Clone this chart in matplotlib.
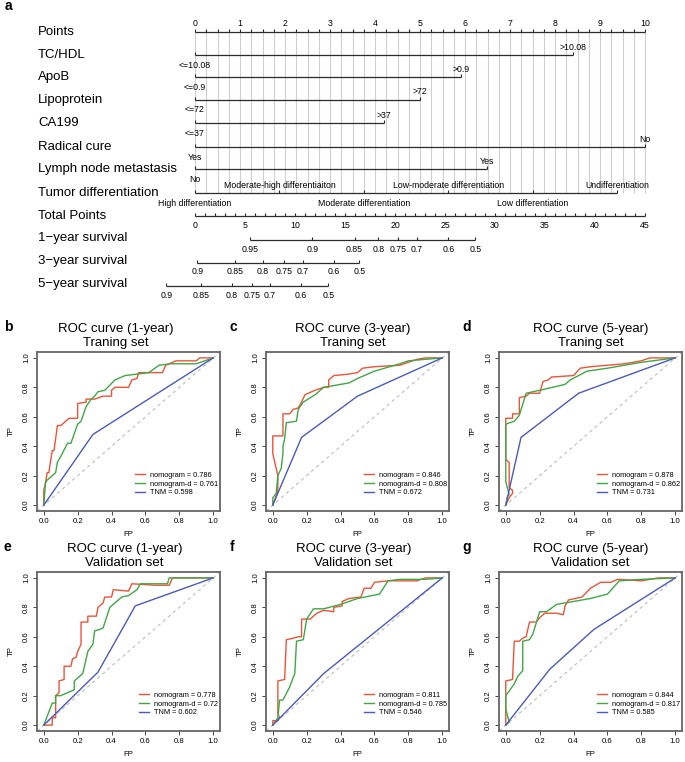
import numpy as np
import matplotlib
matplotlib.use("Agg")
import matplotlib.pyplot as plt

plt.rcParams['font.family'] = ['Liberation Sans', 'DejaVu Sans']

# ---- nomogram (panel a) ----
point_ticks = list(range(0, 11))
variables = ['TC/HDL', 'ApoB', 'Lipoprotein', 'CA199', 'Radical cure', 'Lymph node metastasis']
var_max_points = [8.4, 5.92, 5.0, 4.19, 10.0, 6.48]
var_low_labels = ['<=10.08', '<=0.9', '<=72', '<=37', 'Yes', 'No']
var_high_labels = ['>10.08', '>0.9', '>72', '>37', 'No', 'Yes']
tumor_levels = ['High differentiation', 'Moderate-high differentiaiton', 'Moderate differentiation',
                'Low-moderate differentiation', 'Low differentiation', 'Undifferentiation']
tumor_points = [0, 1.875, 3.75, 5.625, 7.5, 9.375]
total_ticks = list(range(0, 50, 5))
surv_names = ['1\u2212year survival', '3\u2212year survival', '5\u2212year survival']
surv1_labels = ['0.95', '0.9', '0.85', '0.8', '0.75', '0.7', '0.6', '0.5']
surv1_total = [5.54, 11.73, 15.96, 18.32, 20.32, 22.2, 25.34, 28.04]
surv3_labels = ['0.9', '0.85', '0.8', '0.75', '0.7', '0.6', '0.5']
surv3_total = [0.22, 3.97, 6.76, 8.9, 10.77, 13.87, 16.44]
surv5_labels = ['0.9', '0.85', '0.8', '0.75', '0.7', '0.6', '0.5']
surv5_total = [-2.88, 0.61, 3.66, 5.67, 7.5, 10.55, 13.34]

# ---- ROC curves (FP, TP) ----
roc_b_nomo = [(0, 0), (0, 0.1), (0.01, 0.15), (0.02, 0.22), (0.03, 0.22), (0.04, 0.3), (0.05, 0.37), (0.06, 0.37),
              (0.07, 0.45), (0.08, 0.54), (0.1, 0.54), (0.12, 0.56), (0.15, 0.59), (0.2, 0.59), (0.2, 0.69),
              (0.25, 0.7), (0.25, 0.72), (0.3, 0.72), (0.35, 0.74), (0.4, 0.74), (0.4, 0.78), (0.42, 0.8),
              (0.5, 0.8), (0.52, 0.85), (0.55, 0.86), (0.56, 0.9), (0.7, 0.9), (0.72, 0.95), (0.78, 0.98),
              (0.9, 0.98), (0.92, 1.0), (1, 1)]
roc_b_nomod = [(0, 0), (0.01, 0.15), (0.02, 0.17), (0.07, 0.22), (0.08, 0.29), (0.1, 0.33), (0.14, 0.42),
               (0.16, 0.42), (0.2, 0.55), (0.22, 0.57), (0.25, 0.67), (0.28, 0.72), (0.3, 0.74), (0.32, 0.77),
               (0.36, 0.78), (0.42, 0.85), (0.48, 0.88), (0.55, 0.89), (0.62, 0.9), (0.68, 0.95), (0.75, 0.96),
               (0.9, 0.96), (1, 1)]
roc_b_tnm = [(0, 0), (0.29, 0.48), (1, 1)]

roc_c_nomo = [(0, 0), (0.01, 0.03), (0.03, 0.1), (0.03, 0.2), (0.01, 0.3), (0, 0.35), (0, 0.47), (0.06, 0.47),
              (0.06, 0.62), (0.1, 0.62), (0.12, 0.65), (0.15, 0.66), (0.17, 0.7), (0.19, 0.75), (0.25, 0.78),
              (0.3, 0.8), (0.33, 0.8), (0.33, 0.85), (0.36, 0.88), (0.45, 0.89), (0.5, 0.9), (0.53, 0.93),
              (0.6, 0.94), (0.75, 0.95), (0.85, 0.99), (0.9, 1.0), (1, 1)]
roc_c_nomod = [(0, 0), (0, 0.05), (0.02, 0.08), (0.03, 0.2), (0.05, 0.25), (0.06, 0.35), (0.06, 0.4),
               (0.07, 0.45), (0.08, 0.56), (0.14, 0.57), (0.15, 0.65), (0.18, 0.7), (0.25, 0.75), (0.3, 0.8),
               (0.45, 0.83), (0.5, 0.86), (0.6, 0.91), (0.75, 0.96), (0.8, 0.98), (1, 1)]
roc_c_tnm = [(0, 0), (0.17, 0.46), (0.5, 0.74), (1, 1)]

roc_d_nomo = [(0, 0), (0.02, 0.05), (0.04, 0.08), (0.04, 0.1), (0.02, 0.12), (0.02, 0.29), (0, 0.31), (0, 0.59),
              (0.04, 0.59), (0.04, 0.62), (0.08, 0.62), (0.08, 0.73), (0.12, 0.74), (0.14, 0.76), (0.2, 0.76),
              (0.22, 0.84), (0.25, 0.85), (0.27, 0.87), (0.4, 0.88), (0.44, 0.93), (0.5, 0.94), (0.6, 0.95),
              (0.7, 0.96), (0.8, 0.98), (0.85, 1.0), (1, 1)]
roc_d_nomod = [(0, 0), (0.01, 0.06), (0.02, 0.07), (0, 0.16), (0, 0.55), (0.05, 0.57), (0.08, 0.61),
               (0.12, 0.76), (0.2, 0.78), (0.35, 0.82), (0.38, 0.85), (0.48, 0.91), (0.6, 0.93), (0.8, 0.97),
               (1, 1)]
roc_d_tnm = [(0, 0), (0.09, 0.46), (0.43, 0.76), (1, 1)]

roc_e_nomo = [(0, 0), (0.05, 0), (0.05, 0.05), (0.07, 0.05), (0.07, 0.2), (0.09, 0.22), (0.09, 0.3),
              (0.12, 0.31), (0.12, 0.4), (0.16, 0.4), (0.17, 0.45), (0.19, 0.46), (0.2, 0.5), (0.22, 0.55),
              (0.22, 0.7), (0.26, 0.7), (0.26, 0.74), (0.31, 0.74), (0.32, 0.8), (0.35, 0.83), (0.36, 0.87),
              (0.4, 0.87), (0.41, 0.92), (0.5, 0.91), (0.52, 0.96), (0.66, 0.95), (0.74, 0.95), (0.76, 1.0),
              (0.8, 1.0), (1, 1)]
roc_e_nomod = [(0, 0), (0.05, 0.15), (0.07, 0.15), (0.07, 0.2), (0.1, 0.2), (0.18, 0.24), (0.18, 0.3),
               (0.23, 0.35), (0.25, 0.45), (0.26, 0.5), (0.29, 0.55), (0.3, 0.64), (0.33, 0.65), (0.35, 0.66),
               (0.39, 0.8), (0.46, 0.87), (0.5, 0.88), (0.55, 0.92), (0.57, 0.96), (0.73, 0.96), (0.74, 1.0),
               (1, 1)]
roc_e_tnm = [(0, 0), (0.32, 0.36), (0.54, 0.81), (1, 1)]

roc_f_nomo = [(0, 0), (0, 0.03), (0.03, 0.03), (0.04, 0.05), (0.03, 0.08), (0.03, 0.3), (0.07, 0.31),
              (0.08, 0.58), (0.12, 0.59), (0.15, 0.6), (0.17, 0.6), (0.17, 0.72), (0.22, 0.72), (0.26, 0.76),
              (0.3, 0.78), (0.36, 0.77), (0.36, 0.8), (0.41, 0.81), (0.41, 0.84), (0.45, 0.86), (0.52, 0.87),
              (0.54, 0.93), (0.58, 0.93), (0.6, 0.97), (0.68, 0.98), (0.85, 0.98), (0.9, 1.0), (1, 1)]
roc_f_nomod = [(0, 0), (0.03, 0.05), (0.04, 0.17), (0.06, 0.17), (0.1, 0.26), (0.13, 0.35), (0.14, 0.57),
               (0.18, 0.58), (0.2, 0.72), (0.24, 0.79), (0.3, 0.79), (0.4, 0.82), (0.5, 0.86), (0.63, 0.89),
               (0.68, 0.98), (0.75, 0.99), (0.9, 0.99), (1, 1)]
roc_f_tnm = [(0, 0), (0.3, 0.35), (1, 1)]

roc_g_nomo = [(0, 0), (0, 0.3), (0.04, 0.31), (0.05, 0.57), (0.08, 0.57), (0.1, 0.59), (0.12, 0.6), (0.14, 0.7),
              (0.18, 0.7), (0.2, 0.73), (0.23, 0.76), (0.3, 0.76), (0.34, 0.75), (0.35, 0.81), (0.37, 0.85),
              (0.45, 0.87), (0.5, 0.93), (0.56, 0.97), (0.62, 0.97), (0.66, 0.99), (0.8, 0.98), (0.9, 1.0),
              (1, 1)]
roc_g_nomod = [(0, 0), (0.02, 0.02), (0, 0.11), (0, 0.2), (0.05, 0.28), (0.07, 0.33), (0.1, 0.37), (0.1, 0.57),
               (0.14, 0.58), (0.16, 0.62), (0.2, 0.77), (0.24, 0.77), (0.3, 0.82), (0.4, 0.84), (0.5, 0.86),
               (0.6, 0.89), (0.67, 0.98), (0.8, 0.99), (1, 1)]
roc_g_tnm = [(0, 0), (0.26, 0.38), (0.52, 0.65), (1, 1)]

auc_nomo = ['0.786', '0.846', '0.878', '0.778', '0.811', '0.844']
auc_nomod = ['0.761', '0.808', '0.862', '0.72', '0.785', '0.817']
auc_tnm = ['0.598', '0.672', '0.731', '0.602', '0.546', '0.585']
panel_letters = ['b', 'c', 'd', 'e', 'f', 'g']
panel_years = ['1-year', '3-year', '5-year']
panel_sets = ['Traning set', 'Validation set']

W, H = 685, 762
fig = plt.figure(figsize=(W / 100, H / 100), dpi=100)
ink = '#2b2b2b'

# nomogram axes: x in points, y in pixel rows from the top
nom = fig.add_axes([0, 1 - 305 / H, 1, 305 / H])
nom.set_xlim(-195 / 45, 490 / 45)
nom.set_ylim(305, 0)
nom.axis('off')
row_y = [32, 55, 77, 100, 123, 147, 169, 193, 216, 238, 261, 284]
label_x = -157 / 45
lab_fs = 9.5
tk_fs = 6.3


def scale_line(y, xs, ticks):
    nom.plot([min(xs), max(xs)], [y, y], color=ink, lw=0.9, solid_capstyle='butt')
    nom.vlines(ticks, y - 3, y, color=ink, lw=0.8)


# reference grid
grid_x = np.arange(0, 10.001, 0.25)
nom.vlines(grid_x, row_y[0], row_y[7], color='#cfcfcf', lw=0.8, zorder=0)

# Points
nom.text(label_x, row_y[0], 'Points', fontsize=lab_fs, va='center', ha='left')
scale_line(row_y[0], [0, 10], grid_x)
for p in point_ticks:
    nom.text(p, row_y[0] - 8, str(p), fontsize=tk_fs, ha='center', va='center')

# binary variables
for i, name in enumerate(variables):
    y = row_y[i + 1]
    nom.text(label_x, y, name, fontsize=lab_fs, va='center', ha='left')
    scale_line(y, [0, var_max_points[i]], [0, var_max_points[i]])
    nom.text(var_max_points[i], y - 8, var_high_labels[i], fontsize=tk_fs, ha='center', va='center')
    nom.text(0, y + 10, var_low_labels[i], fontsize=tk_fs, ha='center', va='center')

# tumor differentiation
y = row_y[7]
nom.text(label_x, y, 'Tumor differentiation', fontsize=lab_fs, va='center', ha='left')
scale_line(y, tumor_points, tumor_points)
for k, (p, lab) in enumerate(zip(tumor_points, tumor_levels)):
    dy = 10 if k % 2 == 0 else -8
    nom.text(p, y + dy, lab, fontsize=tk_fs, ha='center', va='center')

# total points (0-45 mapped onto 0-10 points)
tp_scale = 10 / 45
y = row_y[8]
nom.text(label_x, y, 'Total Points', fontsize=lab_fs, va='center', ha='left')
scale_line(y, [0, 45 * tp_scale], np.arange(0, 46) * tp_scale)
for t in total_ticks:
    nom.text(t * tp_scale, y + 9, str(t), fontsize=tk_fs, ha='center', va='center')

# survival scales
for k, (name, labs, tot) in enumerate(zip(surv_names, [surv1_labels, surv3_labels, surv5_labels],
                                          [surv1_total, surv3_total, surv5_total])):
    y = row_y[9 + k]
    nom.text(label_x, y, name, fontsize=lab_fs, va='center', ha='left')
    xs = [t * tp_scale for t in tot]
    scale_line(y + 2, xs, xs)
    for xv, lab in zip(xs, labs):
        nom.text(xv, y + 11, lab, fontsize=tk_fs, ha='center', va='center')

fig.text(5 / W, 1 - 6 / H, 'a', fontsize=10, fontweight='bold', va='center', ha='left')

# ROC panels
curves = [(roc_b_nomo, roc_b_nomod, roc_b_tnm), (roc_c_nomo, roc_c_nomod, roc_c_tnm),
          (roc_d_nomo, roc_d_nomod, roc_d_tnm), (roc_e_nomo, roc_e_nomod, roc_e_tnm),
          (roc_f_nomo, roc_f_nomod, roc_f_tnm), (roc_g_nomo, roc_g_nomod, roc_g_tnm)]
col_left = [37, 266, 499]
letter_x = [4, 230, 462]
row_top = [352, 572]
title_dx = [-13, -5, 0, -4, -4, 0]
pw, ph = 183, 159
colors = ['#ee5337', '#3fa845', '#4a5ac2']

for i in range(6):
    r, c = divmod(i, 3)
    ax = fig.add_axes([col_left[c] / W, 1 - (row_top[r] + ph) / H, pw / W, ph / H])
    ax.axline((0, 0), (1, 1), color='#bdbdbd', lw=0.8, ls=(0, (3, 3)))
    labels = ['nomogram = ' + auc_nomo[i], 'nomogram-d = ' + auc_nomod[i], 'TNM = ' + auc_tnm[i]]
    for pts, col, lab in zip(curves[i], colors, labels):
        fp = [p[0] for p in pts]
        tp = [p[1] for p in pts]
        ax.plot(fp, tp, color=col, lw=1.0, label=lab)
    ax.set_xlim(-0.04, 1.04)
    ax.set_ylim(-0.04, 1.04)
    ticks = [0, 0.2, 0.4, 0.6, 0.8, 1.0]
    ax.set_xticks(ticks)
    ax.set_yticks(ticks)
    ax.set_xticklabels(['%.1f' % t for t in ticks], fontsize=5.6)
    ax.set_yticklabels(['%.1f' % t for t in ticks], fontsize=5.6, rotation=90, va='center')
    ax.tick_params(length=3, width=0.7, color='#444444', pad=2)
    for s in ax.spines.values():
        s.set_color('#666666')
        s.set_linewidth(1.3)
    ax.set_xlabel('FP', fontsize=5.6, labelpad=4)
    ax.set_ylabel('TP', fontsize=5.6, labelpad=6)
    ax.set_title('ROC curve (%s)\n%s' % (panel_years[c], panel_sets[r]), fontsize=9.5, pad=4,
                 linespacing=1.3, x=0.5 + title_dx[i] / pw)
    ax.legend(loc='lower right', bbox_to_anchor=(1.01, 0.07), frameon=False, fontsize=5.3,
              handlelength=1.3, handletextpad=0.7, labelspacing=0.2, borderpad=0)
    fig.text(letter_x[c] / W, 1 - (row_top[r] - 25) / H, panel_letters[i], fontsize=10,
             fontweight='bold', va='center', ha='left')

fig.savefig('out.png', dpi=100)
